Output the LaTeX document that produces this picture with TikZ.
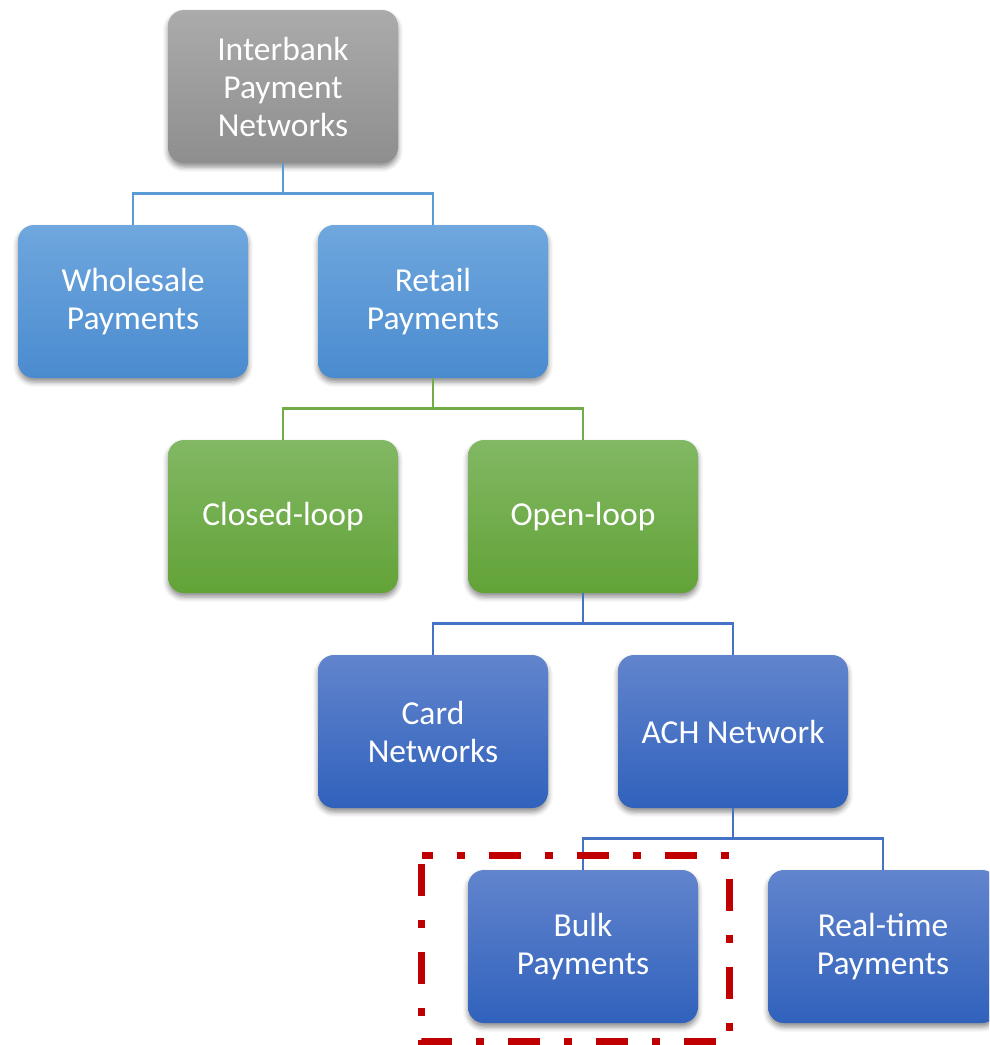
\documentclass[tikz,border=0pt]{standalone}
\usepackage{fontspec}
\setmainfont{Carlito}
\usetikzlibrary{shadows.blur}

\definecolor{grayTop}{HTML}{ABABAB}
\definecolor{grayBot}{HTML}{8E8E8E}
\definecolor{lblueTop}{HTML}{6FA7DE}
\definecolor{lblueBot}{HTML}{4A8BCF}
\definecolor{greenTop}{HTML}{82B864}
\definecolor{greenBot}{HTML}{62A337}
\definecolor{dblueTop}{HTML}{6284CD}
\definecolor{dblueBot}{HTML}{3062BC}
\definecolor{lineLBlue}{HTML}{5B9BD5}
\definecolor{lineGreen}{HTML}{70AD47}
\definecolor{lineDBlue}{HTML}{4472C4}
\definecolor{markRed}{HTML}{C00000}

\begin{document}
\begin{tikzpicture}[x=1pt,y=-1pt,
  box/.style={rounded corners=16pt, minimum width=230pt, minimum height=153pt,
    inner sep=0pt, text=white, align=center,
    font=\fontsize{33.5}{38}\selectfont,
    blur shadow={shadow xshift=0pt, shadow yshift=-4pt,
      shadow blur radius=5pt, shadow opacity=45}},
  graybox/.style={box, top color=grayTop, bottom color=grayBot},
  lbluebox/.style={box, top color=lblueTop, bottom color=lblueBot},
  greenbox/.style={box, top color=greenTop, bottom color=greenBot},
  dbluebox/.style={box, top color=dblueTop, bottom color=dblueBot},
  link/.style={line width=2.6pt},
]
\useasboundingbox (0,0) rectangle (989,1045);
\clip (0,0) rectangle (989,1045);

% tree nodes
\node[graybox]  (ib)   at (283,86.5)  {Interbank\\Payment\\Networks};
\node[lbluebox] (ws)   at (133,301.5) {Wholesale\\Payments};
\node[lbluebox] (rt)   at (433,301.5) {Retail\\Payments};
\node[greenbox] (cl)   at (283,516.5) {Closed-loop};
\node[greenbox] (ol)   at (583,516.5) {Open-loop};
\node[dbluebox] (card) at (433,731.5) {Card\\Networks};
\node[dbluebox] (ach)  at (733,731.5) {ACH Network};
\node[dbluebox] (bulk) at (583,946.5) {Bulk\\Payments};
\node[dbluebox] (rtp)  at (883,946.5) {Real-time\\Payments};

% elbow connectors
\draw[link, lineLBlue] (ib.south) -- ++(0,30) -| (ws.north);
\draw[link, lineLBlue] (ib.south) -- ++(0,30) -| (rt.north);
\draw[link, lineGreen] (rt.south) -- ++(0,30) -| (cl.north);
\draw[link, lineGreen] (rt.south) -- ++(0,30) -| (ol.north);
\draw[link, lineDBlue] (ol.south) -- ++(0,30) -| (card.north);
\draw[link, lineDBlue] (ol.south) -- ++(0,30) -| (ach.north);
\draw[link, lineDBlue] (ach.south) -- ++(0,30) -| (bulk.north);
\draw[link, lineDBlue] (ach.south) -- ++(0,30) -| (rtp.north);

% dash-dot highlight frame
\draw[markRed, line width=7pt, line join=miter,
      dash pattern=on 32pt off 24pt on 8pt off 24pt, dash phase=21pt]
  (421.5,855) -- (729,855) -- (729,1041.5) -- (421.5,1041.5) -- cycle;
\end{tikzpicture}
\end{document}
